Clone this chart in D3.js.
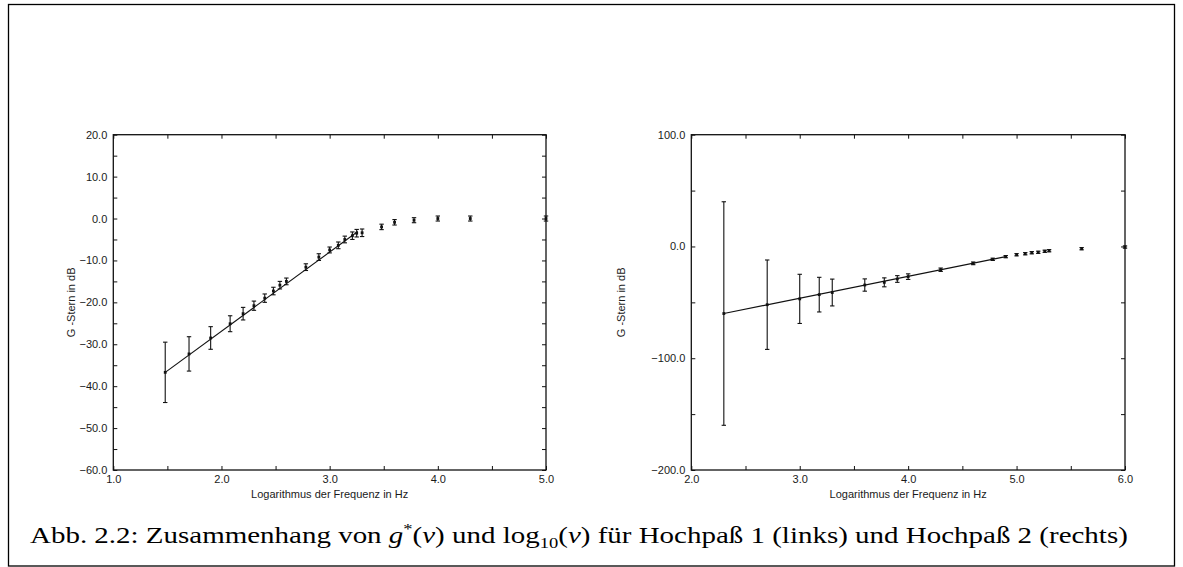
<!DOCTYPE html>
<html>
<head>
<meta charset="utf-8">
<script src="https://cdn.jsdelivr.net/npm/d3@7"></script>
<style>
  body { margin: 0; background: #fff; }
  svg { display: block; }
  .tick text { font-family: "Liberation Sans", Arial, sans-serif; font-size: 11px; fill: #1a1a1a; }
  .domain { display: none; }
  .tick line { stroke: #111; stroke-width: 1; }
</style>
</head>
<body>
<svg id="fig" width="1183" height="567"></svg>
<script>

// Hochpass 1 (links)
let leftX = [1.48, 1.70, 1.90, 2.08, 2.20, 2.30, 2.40, 2.48, 2.54, 2.60, 2.78, 2.90,
             3.00, 3.08, 3.14, 3.21, 3.25, 3.30, 3.48, 3.60, 3.78, 4.00, 4.30, 5.00];
let leftY = [-36.7, -32.3, -28.5, -25.1, -22.7, -20.8, -19.0, -17.3, -15.9, -15.0, -11.6, -9.2,
             -7.5, -6.4, -5.0, -4.1, -3.5, -3.4, -2.0, -0.9, -0.4, 0.0, 0.0, 0.0];
let leftErr = [7.2, 4.1, 2.7, 1.9, 1.5, 1.1, 1.0, 0.9, 0.9, 0.8, 0.8, 0.8,
               0.7, 0.8, 0.8, 0.9, 0.9, 0.9, 0.65, 0.65, 0.6, 0.6, 0.6, 0.6];
let leftFitX = [1.48, 3.26],
    leftFitY = [-36.7, -3.1];

// Hochpass 2 (rechts)
let rightX = [2.30, 2.70, 3.00, 3.18, 3.30, 3.60, 3.78, 3.90, 4.00, 4.30, 4.60, 4.78,
              4.90, 5.00, 5.08, 5.14, 5.20, 5.26, 5.30, 5.60, 6.00];
let rightY = [-60.0, -52.1, -46.9, -43.1, -41.2, -34.5, -32.1, -29.1, -27.0, -20.8, -15.1, -11.5,
              -9.1, -7.4, -6.5, -5.6, -5.2, -4.3, -3.8, -2.0, -0.5];
let rightErr = [100, 40, 22, 15.5, 12, 5.5, 4, 3, 2.5, 1.5, 1.2, 1.0,
                1.0, 1.0, 1.0, 1.0, 1.0, 1.0, 1.0, 1.0, 1.0];
let rightFitX = [2.30, 4.90],
    rightFitY = [-60.0, -9.1];

let leftXTicks = [1, 2, 3, 4, 5],
    leftYTicks = [20, 10, 0, -10, -20, -30, -40, -50, -60],
    rightXTicks = [2, 3, 4, 5, 6],
    rightYTicks = [100, 0, -100, -200];

let xTitle = "Logarithmus der Frequenz in Hz",
    yTitle = "G -Stern in dB";

let plotTop = 134.7, plotBottom = 470;

// no d3-selection-multi here, so a tiny stand-in for .attrs
d3.selection.prototype.attrs = function(o) {
  for (let k in o) this.attr(k, o[k]);
  return this;
};

function zip(xs, ys, es) {
  return xs.map((x, i) => ({x: x, y: ys[i], e: es ? es[i] : 0}));
}

function minor(ticks, step) {
  let out = [];
  for (let i = 0; i < ticks.length - 1; i++) {
    let a = Math.min(ticks[i], ticks[i + 1]);
    let b = Math.max(ticks[i], ticks[i + 1]);
    for (let v = a + step; v < b - 1e-9; v += step) out.push(v);
  }
  return out;
}

function panel(svg, cfg) {
  let x = d3.scaleLinear().domain(cfg.xDomain).range([cfg.left, cfg.right]);
  let y = d3.scaleLinear().domain(cfg.yDomain).range([plotBottom, plotTop]);
  let fmt = d3.format(".1f");
  let g = svg.append("g");

  let xAll = cfg.xTicks.concat(minor(cfg.xTicks, cfg.xMinor));
  let yAll = cfg.yTicks.concat(minor(cfg.yTicks, cfg.yMinor));

  // ticks pointing inwards on all four sides
  g.append("g").attr("transform", `translate(0,${plotBottom})`)
    .call(d3.axisBottom(x).tickValues(xAll).tickSize(-4).tickPadding(5)
      .tickFormat(d => cfg.xTicks.includes(d) ? fmt(d) : ""));
  g.append("g").attr("transform", `translate(0,${plotTop})`)
    .call(d3.axisTop(x).tickValues(xAll).tickSize(-4).tickFormat(""));
  g.append("g").attr("transform", `translate(${cfg.left},0)`)
    .call(d3.axisLeft(y).tickValues(yAll).tickSize(-4).tickPadding(6)
      .tickFormat(d => cfg.yTicks.includes(d) ? fmt(d) : ""));
  g.append("g").attr("transform", `translate(${cfg.right},0)`)
    .call(d3.axisRight(y).tickValues(yAll).tickSize(-4).tickFormat(""));

  g.append("rect")
    .attrs({x: cfg.left, y: plotTop, width: cfg.right - cfg.left, height: plotBottom - plotTop,
            fill: "none", stroke: "#111", "stroke-width": 1.3});

  g.append("text")
    .attrs({x: (cfg.left + cfg.right) / 2, y: 498, "text-anchor": "middle",
            "font-family": "Liberation Sans, Arial, sans-serif", "font-size": 11, fill: "#1a1a1a"})
    .text(xTitle);
  g.append("text")
    .attrs({transform: `translate(${cfg.yTitleX},${(plotTop + plotBottom) / 2}) rotate(-90)`,
            "text-anchor": "middle", "font-family": "Liberation Sans, Arial, sans-serif",
            "font-size": 11, fill: "#1a1a1a"})
    .text(yTitle);

  // fit line
  let line = d3.line().x(d => x(d.x)).y(d => y(d.y));
  g.append("path")
    .datum(zip(cfg.fitX, cfg.fitY))
    .attrs({d: line, fill: "none", stroke: "#111", "stroke-width": 1.1});

  // error bars
  let pts = g.append("g").selectAll("g")
    .data(zip(cfg.xs, cfg.ys, cfg.es)).enter()
    .append("g")
    .attr("stroke", "#111")
    .attr("stroke-width", 1.1);
  pts.append("line")
    .attrs({x1: d => x(d.x), x2: d => x(d.x), y1: d => y(d.y + d.e), y2: d => y(d.y - d.e)});
  pts.append("line")
    .attrs({x1: d => x(d.x) - 2.2, x2: d => x(d.x) + 2.2, y1: d => y(d.y + d.e), y2: d => y(d.y + d.e)});
  pts.append("line")
    .attrs({x1: d => x(d.x) - 2.2, x2: d => x(d.x) + 2.2, y1: d => y(d.y - d.e), y2: d => y(d.y - d.e)});
  pts.append("rect")
    .attrs({x: d => x(d.x) - 1.4, y: d => y(d.y) - 1.4, width: 2.8, height: 2.8,
            fill: "#111", stroke: "none"});
}

let svg = d3.select("#fig");

svg.append("rect")
  .attrs({x: 8.5, y: 4.5, width: 1166, height: 561.5, fill: "none", stroke: "#000", "stroke-width": 1.3});

panel(svg, {
  left: 113.3, right: 546, xDomain: [1, 5], yDomain: [-60, 20],
  xTicks: leftXTicks, xMinor: 0.5, yTicks: leftYTicks, yMinor: 5, yTitleX: 75,
  xs: leftX, ys: leftY, es: leftErr, fitX: leftFitX, fitY: leftFitY
});
panel(svg, {
  left: 691.3, right: 1125, xDomain: [2, 6], yDomain: [-200, 100],
  xTicks: rightXTicks, xMinor: 0.5, yTicks: rightYTicks, yMinor: 50, yTitleX: 625,
  xs: rightX, ys: rightY, es: rightErr, fitX: rightFitX, fitY: rightFitY
});

// caption
let cap = svg.append("text")
  .attrs({x: 30, y: 543, "font-family": "'Liberation Serif', 'DejaVu Serif', serif",
          "font-size": 23.5, fill: "#000"});
cap.append("tspan").text("Abb. 2.2: Zusammenhang von ");
cap.append("tspan").attr("font-style", "italic").text("g");
cap.append("tspan").attr("font-size", 15).attr("dy", -9).text("*");
cap.append("tspan").attr("dy", 9).text("(");
cap.append("tspan").attr("font-style", "italic").text("ν");
cap.append("tspan").text(") und log");
cap.append("tspan").attr("font-size", 15).attr("dy", 5).text("10");
cap.append("tspan").attr("dy", -5).text("(");
cap.append("tspan").attr("font-style", "italic").text("ν");
cap.append("tspan").text(") für Hochpaß 1 (links) und Hochpaß 2 (rechts)");

// stretch the caption to the width it has in the figure
let w = cap.node().getComputedTextLength();
cap.attr("transform", `translate(30,0) scale(${1098 / w},1) translate(-30,0)`);

</script>
</body>
</html>
